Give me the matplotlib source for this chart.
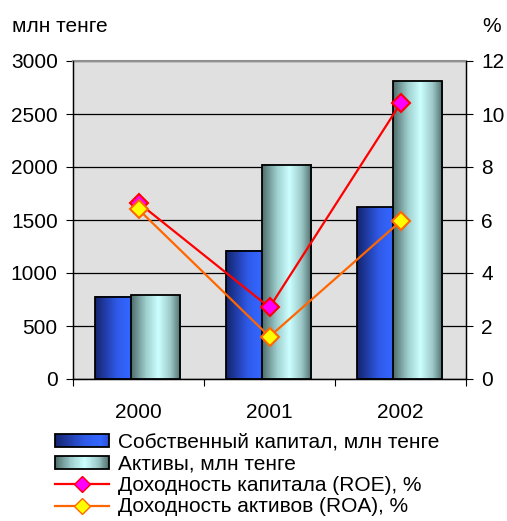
import numpy as np
import matplotlib
matplotlib.use("Agg")
import matplotlib.pyplot as plt
from matplotlib.patches import Patch, Rectangle
from matplotlib.lines import Line2D
from matplotlib.legend_handler import HandlerBase
from matplotlib.colors import to_rgb

plt.rcParams["font.family"] = ["Liberation Sans", "DejaVu Sans"]
FS = 15

years = ["2000", "2001", "2002"]
capital = [775, 1210, 1620]          # млн тенге
assets = [790, 2020, 2810]           # млн тенге
roe = [6.65, 2.7, 10.4]              # %
roa = [6.4, 1.6, 5.95]               # %

lab_cap = "Собственный капитал, млн тенге"
lab_ast = "Активы, млн тенге"
lab_roe = "Доходность капитала (ROE), %"
lab_roa = "Доходность активов (ROA), %"


def grad(stops, n=64):
    """horizontal colour ramp from (pos, colour) stops -> (n,3) array"""
    pos = np.array([p for p, _ in stops]); cols = np.array([to_rgb(c) for _, c in stops])
    t = np.linspace(0, 1, n)
    return np.stack([np.interp(t, pos, cols[:, k]) for k in range(3)], axis=1)


cap_ramp = grad([(0, "#14246e"), (0.55, "#2f5ae8"), (0.85, "#3366ff"), (1, "#2a50d0")])
ast_ramp = grad([(0, "#4f6e6c"), (0.3, "#9fcfcf"), (0.55, "#ccffff"), (0.8, "#9cc8c8"), (1, "#4f6e6c")])


class GradHandler(HandlerBase):
    def __init__(self, ramp):
        super().__init__(); self.ramp = ramp

    def create_artists(self, legend, orig, xd, yd, w, h, fs, trans):
        n = len(self.ramp); arts = []
        for i, c in enumerate(self.ramp):
            arts.append(Rectangle((-xd + w * i / n, -yd), w / n * 1.05, h, facecolor=c,
                                  edgecolor="none", transform=trans))
        arts.append(Rectangle((-xd, -yd), w, h, facecolor="none", edgecolor="black", lw=1.3, transform=trans))
        return arts


fig = plt.figure(figsize=(5.07, 5.21), dpi=100)
ax = fig.add_axes([73 / 507, 1 - 379 / 521, (466 - 73) / 507, (379 - 61) / 521])
ax.set_facecolor("#e0e0e0")
x = np.arange(len(years))

# bars: capital left (narrower, partly behind), assets right
for vals, x0, w, ramp, z in [(capital, -0.333, 0.30, cap_ramp, 2), (assets, -0.06, 0.375, ast_ramp, 3)]:
    bars = ax.bar(x + x0, vals, w, align="edge", color="none", edgecolor="black", lw=1.3, zorder=z + 0.5)
    for b in bars:
        bx, by, bw, bh = b.get_x(), b.get_y(), b.get_width(), b.get_height()
        ax.imshow(ramp[np.newaxis, :, :], extent=(bx, bx + bw, by, by + bh), aspect="auto",
                  interpolation="bilinear", zorder=z)

ax.set_xlim(-0.5, 2.5)
ax.set_ylim(0, 3000)
ax.set_yticks(np.arange(0, 3001, 500))
ax.grid(axis="y", color="black", lw=0.9, zorder=1)
ax.set_axisbelow(True)
ax.set_xticks([-0.5, 0.5, 1.5, 2.5])
ax.set_xticklabels([])
ax.set_xticks(x, years, minor=True)
ax.tick_params(axis="x", which="minor", length=0, pad=17, labelsize=FS)
ax.tick_params(axis="x", which="major", length=5, direction="out")
ax.tick_params(axis="y", length=5, direction="out", pad=6, labelsize=FS)
for s in ("left", "bottom", "right"):
    ax.spines[s].set_color("black"); ax.spines[s].set_linewidth(1.0)
ax.spines["top"].set_color("#909090"); ax.spines["top"].set_linewidth(1.5)

ax2 = ax.twinx()
ax2.set_ylim(0, 12)
ax2.set_yticks(np.arange(0, 13, 2))
ax2.tick_params(axis="y", length=5, direction="out", pad=6, labelsize=FS)
ax2.spines["top"].set_visible(False)
ax2.plot(x, roe, color="#ff0000", lw=1.6, marker="D", ms=9, mfc="#ff00ff", mec="#ff0000", mew=1.5, zorder=5)
ax2.plot(x, roa, color="#ff6600", lw=1.6, marker="D", ms=9, mfc="#ffff00", mec="#ff6600", mew=1.5, zorder=6)

fig.text(12 / 507, 1 - 27 / 521, "млн тенге", fontsize=FS, va="center", ha="left")
fig.text(492 / 507, 1 - 27 / 521, "%", fontsize=FS, va="center", ha="center")

h_cap = Patch(label=lab_cap)
h_ast = Patch(label=lab_ast)
h_roe = Line2D([], [], color="#ff0000", lw=1.6, marker="D", ms=8, mfc="#ff00ff", mec="#ff0000", label=lab_roe)
h_roa = Line2D([], [], color="#ff6600", lw=1.6, marker="D", ms=8, mfc="#ffff00", mec="#ff6600", label=lab_roa)
fig.legend(handles=[h_cap, h_ast, h_roe, h_roa], loc="upper left", bbox_to_anchor=(55 / 507, 1 - 433 / 521),
           frameon=False, fontsize=FS, borderpad=0, borderaxespad=0, handlelength=2.6, handleheight=0.6,
           handletextpad=0.4, labelspacing=0.12,
           handler_map={h_cap: GradHandler(cap_ramp), h_ast: GradHandler(ast_ramp)})

fig.savefig("out.png", dpi=100)
